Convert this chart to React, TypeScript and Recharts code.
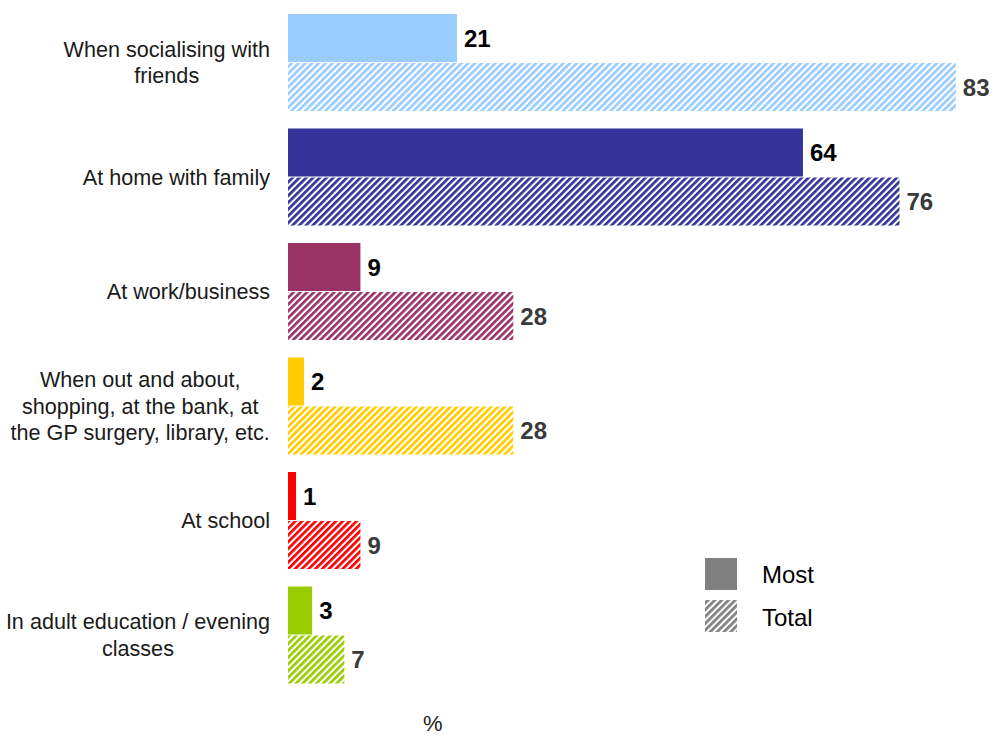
import React from 'react';
import { BarChart, Bar, XAxis, YAxis, Cell, LabelList } from 'recharts';

const categories = [
  'When socialising with\nfriends',
  'At home with family',
  'At work/business',
  'When out and about,\nshopping, at the bank, at\nthe GP surgery, library, etc.',
  'At school',
  'In adult education / evening\nclasses',
];
const mostValues = [21, 64, 9, 2, 1, 3];
const totalValues = [83, 76, 28, 28, 9, 7];
const barColors = ['#99CCFF', '#333399', '#993366', '#FFCC00', '#FF0000', '#99CC00'];

const FONT = "'Liberation Sans', Arial, sans-serif";

const data = categories.map((name, i) => ({
  name,
  most: mostValues[i],
  total: totalValues[i],
}));

let ctx: CanvasRenderingContext2D | null = null;
const measure = (text: string, size: number) => {
  if (!ctx) ctx = document.createElement('canvas').getContext('2d');
  if (!ctx) return text.length * size * 0.5;
  ctx.font = `${size}px ${FONT}`;
  return ctx.measureText(text).width;
};

// multi-line label, lines centred inside a block that is right-aligned to the axis
const CategoryTick = ({ x, y, payload }: any) => {
  const lines: string[] = String(payload.value).split('\n');
  const size = 21.6;
  const lineH = 26.5;
  const blockW = Math.max(...lines.map((l) => measure(l, size)));
  const cx = x - blockW / 2;
  const startY = y - ((lines.length - 1) * lineH) / 2;
  return (
    <text textAnchor="middle" fontFamily={FONT} fontSize={size} fill="#1a1a1a">
      {lines.map((l, i) => (
        <tspan key={i} x={cx} y={startY + i * lineH} dy="0.36em">
          {l}
        </tspan>
      ))}
    </text>
  );
};

const Hatch = ({ id, color }: { id: string; color: string }) => (
  <pattern id={id} width={4.8} height={4.8} patternUnits="userSpaceOnUse" patternTransform="rotate(45)">
    <rect x={0} y={0} width={4.8} height={4.8} fill="#ffffff" />
    <rect x={0} y={0} width={2.7} height={4.8} fill={color} />
  </pattern>
);

export default function App() {
  return (
    <div style={{ position: 'absolute', left: 0, top: 0, width: 992, height: 735, fontFamily: FONT }}>
      <BarChart
        width={992}
        height={735}
        data={data}
        layout="vertical"
        margin={{ top: 5, right: 4, bottom: 43, left: 0 }}
        barGap={1}
      >
        <defs>
          {barColors.map((c, i) => (
            <Hatch key={i} id={`hatch-${i}`} color={c} />
          ))}
        </defs>
        <XAxis type="number" domain={[0, 87]} hide />
        <YAxis
          type="category"
          dataKey="name"
          width={288}
          axisLine={false}
          tickLine={false}
          tickSize={0}
          tickMargin={18}
          tick={<CategoryTick />}
          interval={0}
        />
        <Bar dataKey="most" barSize={48} isAnimationActive={false}>
          {data.map((_, i) => (
            <Cell key={i} fill={barColors[i]} />
          ))}
          <LabelList
            dataKey="most"
            position="right"
            offset={7}
            fill="#000000"
            fontFamily={FONT}
            fontSize={24}
            fontWeight="bold"
          />
        </Bar>
        <Bar dataKey="total" barSize={48} isAnimationActive={false}>
          {data.map((_, i) => (
            <Cell key={i} fill={`url(#hatch-${i})`} />
          ))}
          <LabelList
            dataKey="total"
            position="right"
            offset={7}
            fill="#3a3a3a"
            fontFamily={FONT}
            fontSize={24}
            fontWeight="bold"
          />
        </Bar>
      </BarChart>

      {/* legend */}
      <svg style={{ position: 'absolute', left: 700, top: 552 }} width={200} height={90}>
        <defs>
          <Hatch id="hatch-legend" color="#808080" />
        </defs>
        <rect x={5} y={6} width={32} height={32} fill="#808080" />
        <rect x={5} y={48} width={32} height={32} fill="url(#hatch-legend)" />
        <text x={62} y={22} dy="0.36em" fontFamily={FONT} fontSize={24} fill="#000">
          Most
        </text>
        <text x={62} y={65} dy="0.36em" fontFamily={FONT} fontSize={24} fill="#000">
          Total
        </text>
      </svg>

      <div
        style={{
          position: 'absolute',
          left: 423,
          top: 711,
          fontSize: 22,
          color: '#1a1a1a',
        }}
      >
        %
      </div>
    </div>
  );
}
